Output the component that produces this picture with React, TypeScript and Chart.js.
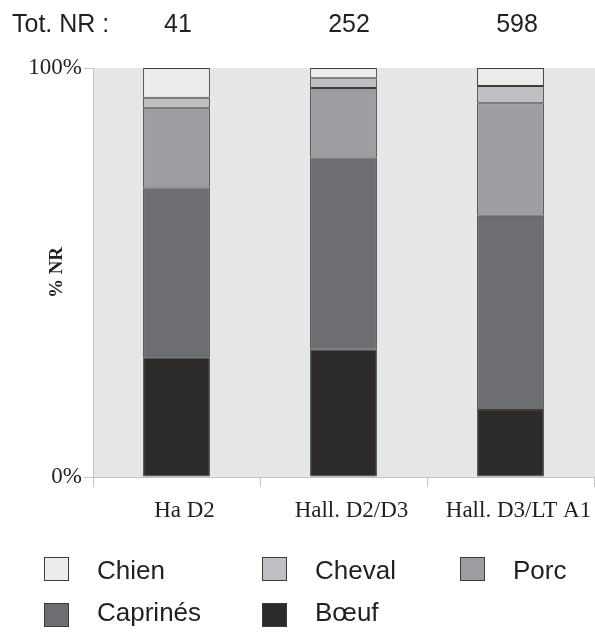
import React, { useEffect, useRef } from "react";
import { Chart, registerables } from "chart.js";

Chart.register(...registerables);

const categories = ["Ha D2", "Hall. D2/D3", "Hall. D3/LT A1"];
const totals = [41, 252, 598];
const boeuf = [29.3, 31.1, 16.4];
const caprines = [41.5, 47.0, 47.5];
const porc = [19.5, 17.0, 27.5];
const cheval = [2.4, 2.4, 4.2];
const chien = [7.3, 2.5, 4.4];
const yTicks = [0, 100];

const COLORS = {
  chien: "#ececec",
  cheval: "#bebfc2",
  porc: "#9d9ea1",
  caprines: "#6d6e71",
  boeuf: "#2d2a2b",
};
const BORDER = "#3c3c3e";
const SERIF = "'Liberation Serif', 'Times New Roman', serif";
const SANS = "'Liberation Sans', Arial, sans-serif";

const legendItems = [
  { label: "Chien", color: COLORS.chien, left: 44, row: 0 },
  { label: "Cheval", color: COLORS.cheval, left: 262, row: 0 },
  { label: "Porc", color: COLORS.porc, left: 460, row: 0 },
  { label: "Caprinés", color: COLORS.caprines, left: 44, row: 1 },
  { label: "Bœuf", color: COLORS.boeuf, left: 262, row: 1 },
];
const totalCenters = [178, 349, 517];

const bgPlugin = {
  id: "plotBg",
  beforeDraw(chart: any) {
    const { ctx, chartArea } = chart;
    ctx.save();
    ctx.fillStyle = "#e6e7e9";
    ctx.fillRect(chartArea.left, chartArea.top, chartArea.right - chartArea.left + 1, chartArea.bottom - chartArea.top);
    ctx.restore();
  },
};

export default function App() {
  const ref = useRef<HTMLCanvasElement | null>(null);

  useEffect(() => {
    if (!ref.current) return;
    const mk = (label: string, data: number[], color: string) => ({
      label,
      data,
      backgroundColor: color,
      borderColor: BORDER,
      borderWidth: 1,
      borderSkipped: false,
      barPercentage: 0.4,
      categoryPercentage: 1,
    });
    const chart = new Chart(ref.current, {
      type: "bar",
      data: {
        labels: categories,
        datasets: [
          mk("Bœuf", boeuf, COLORS.boeuf),
          mk("Caprinés", caprines, COLORS.caprines),
          mk("Porc", porc, COLORS.porc),
          mk("Cheval", cheval, COLORS.cheval),
          mk("Chien", chien, COLORS.chien),
        ],
      },
      options: {
        responsive: false,
        animation: false,
        devicePixelRatio: 1,
        layout: { padding: { left: 0, top: 68, right: 1, bottom: 95 } },
        plugins: { legend: { display: false }, tooltip: { enabled: false } },
        scales: {
          x: {
            stacked: true,
            grid: {
              display: true,
              drawOnChartArea: false,
              offset: true,
              tickLength: 10,
              color: "#c4c4c6",
            },
            border: { display: true, color: "#c4c4c6" },
            ticks: {
              color: "#231f20",
              font: { family: SERIF, size: 23 },
              padding: 10,
              labelOffset: 8,
              maxRotation: 0,
              autoSkip: false,
            },
            afterFit(scale: any) {
              scale.height = 60;
            },
          },
          y: {
            stacked: true,
            min: 0,
            max: 100,
            afterBuildTicks(scale: any) {
              scale.ticks = yTicks.map((v) => ({ value: v }));
            },
            grid: {
              display: true,
              drawOnChartArea: false,
              tickLength: 9,
              color: "#c4c4c6",
            },
            border: { display: true, color: "#c4c4c6" },
            ticks: {
              color: "#231f20",
              font: { family: SERIF, size: 23 },
              padding: 2,
              callback: (v: any) => v + "%",
            },
            title: {
              display: true,
              text: "% NR",
              color: "#231f20",
              font: { family: SERIF, size: 19, weight: "bold" },
              padding: { top: 46, bottom: 0 },
            },
            afterFit(scale: any) {
              scale.width = 93;
            },
          },
        },
      },
      plugins: [bgPlugin],
    } as any);
    return () => chart.destroy();
  }, []);

  return (
    <div style={{ position: "absolute", left: 0, top: 0, width: 595, height: 632, background: "#fff", overflow: "hidden" }}>
      <canvas ref={ref} width={595} height={632} style={{ position: "absolute", left: 0, top: 0 }} />
      <div
        style={{
          position: "absolute",
          left: 12,
          top: 11,
          fontFamily: SANS,
          fontSize: 25,
          lineHeight: "25px",
          color: "#231f20",
          whiteSpace: "nowrap",
        }}
      >
        Tot. NR :
      </div>
      {totals.map((t, i) => (
        <div
          key={i}
          style={{
            position: "absolute",
            left: totalCenters[i] - 50,
            width: 100,
            top: 11,
            textAlign: "center",
            fontFamily: SANS,
            fontSize: 25,
            lineHeight: "25px",
            color: "#231f20",
          }}
        >
          {t}
        </div>
      ))}
      {legendItems.map((it, i) => (
        <React.Fragment key={i}>
          <div
            style={{
              position: "absolute",
              left: it.left,
              top: it.row === 0 ? 557 : 603,
              width: 23,
              height: 22,
              background: it.color,
              border: "1px solid " + BORDER,
            }}
          />
          <div
            style={{
              position: "absolute",
              left: it.left + 53,
              top: it.row === 0 ? 557 : 599,
              fontFamily: SANS,
              fontSize: 26,
              lineHeight: "26px",
              color: "#231f20",
              whiteSpace: "nowrap",
            }}
          >
            {it.label}
          </div>
        </React.Fragment>
      ))}
    </div>
  );
}
